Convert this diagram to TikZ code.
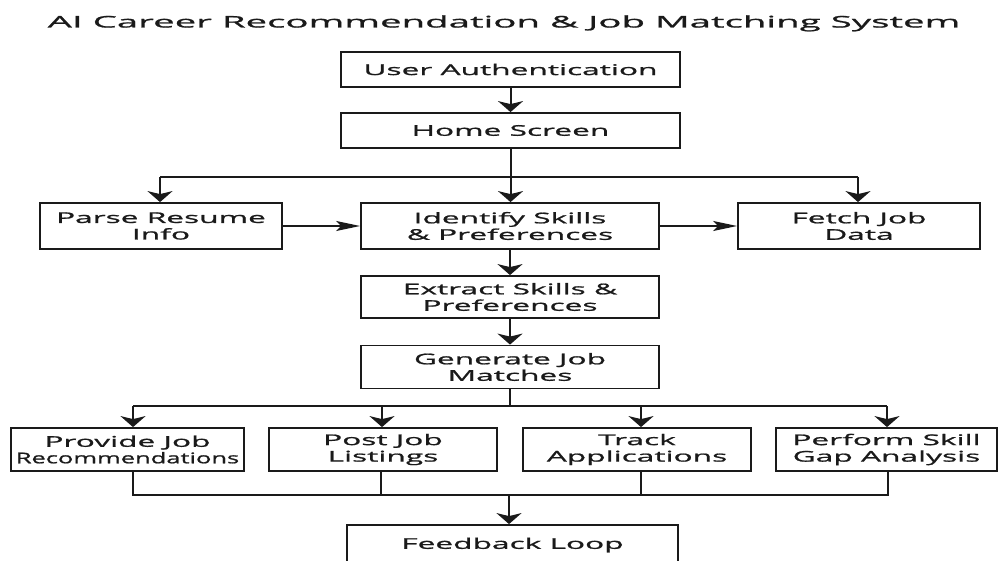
\documentclass[tikz,border=0pt]{standalone}
\usepackage{fontspec}
\setmainfont[FakeStretch=2.14,FakeBold=1.2]{Open Sans}
\newfontfamily\titlefont[FakeStretch=2.4,FakeBold=1.2]{Open Sans}
\usetikzlibrary{arrows.meta}
\definecolor{ink}{HTML}{1A1A1A}
\begin{document}
\begin{tikzpicture}[x=1pt,y=-1pt,
  box/.style={draw=ink,line width=1.8pt,fill=white,inner sep=0pt,align=center,
    font=\fontsize{14.8}{16.5}\selectfont,text=ink},
  vline/.style={draw=ink,line width=2pt},
  varr/.style={vline,-{Stealth[length=11pt,width=25pt,inset=3pt]}},
  harr/.style={vline,-{Stealth[length=24pt,width=10pt,inset=5pt]}}]
\useasboundingbox (0,0) rectangle (1000,561);
\fill[white] (0,0) rectangle (1000,561);
\node[anchor=base,font=\titlefont\fontsize{16}{20}\selectfont,text=ink] (title) at (504,27.5) {AI Career Recommendation \& Job Matching System};

\node[box,minimum width=339pt,minimum height=35pt] (ua) at (510.5,69.5) {User Authentication};
\node[box,minimum width=339pt,minimum height=35pt] (hs) at (510.5,130.5) {Home Screen};
\node[box,minimum width=242pt,minimum height=46pt] (parse) at (161,226) {Parse Resume\\Info};
\node[box,minimum width=298pt,minimum height=46pt] (ident) at (510,226) {Identify Skills\\\& Preferences};
\node[box,minimum width=242pt,minimum height=46pt] (fetch) at (859,226) {Fetch Job\\Data};
\node[box,minimum width=298pt,minimum height=42pt] (extr) at (510,297) {Extract Skills \&\\Preferences};
\node[box,minimum width=298pt,minimum height=43pt] (gen) at (510,367) {Generate Job\\Matches};
\node[box,minimum width=233pt,minimum height=43pt] (prov) at (127.5,449.5) {Provide Job\\\scalebox{0.805}[1]{Recommendations}};
\node[box,minimum width=228pt,minimum height=43pt] (post) at (383,449.5) {Post Job\\Listings};
\node[box,minimum width=228pt,minimum height=43pt] (track) at (637,449.5) {Track\\Applications};
\node[box,minimum width=221pt,minimum height=43pt] (perf) at (886.5,449.5) {Perform Skill\\Gap Analysis};
\node[box,minimum width=331pt,minimum height=40pt] (fb) at (512.5,545) {Feedback Loop};

% top chain
\draw[varr] (ua) -- (hs);
\coordinate (j1) at (510.5,177);
\coordinate (j1l) at (160,177);
\coordinate (j1r) at (858,177);
\draw[vline] (hs.south) -- (j1);
\draw[vline] (j1l) -- (j1r);
\draw[varr] (j1l) -- (j1l |- parse.north);
\draw[varr] (j1) -- (j1 |- ident.north);
\draw[varr] (j1r) -- (j1r |- fetch.north);
\draw[harr] (parse.east) -- (ident.west);
\draw[harr] (ident.east) -- (fetch.west);
\draw[varr] (ident) -- (extr);
\draw[varr] (extr) -- (gen);

% fan out
\coordinate (j2) at (510,406);
\coordinate (b1) at (133,406);
\coordinate (b2) at (382,406);
\coordinate (b3) at (641,406);
\coordinate (b4) at (887,406);
\draw[vline] (gen.south) -- (j2);
\draw[vline] (b1) -- (b4);
\draw[varr] (b1) -- (b1 |- prov.north);
\draw[varr] (b2) -- (b2 |- post.north);
\draw[varr] (b3) -- (b3 |- track.north);
\draw[varr] (b4) -- (b4 |- perf.north);

% collect
\coordinate (c1) at (133,494.5);
\coordinate (c2) at (381,494.5);
\coordinate (c3) at (641,494.5);
\coordinate (c4) at (888,494.5);
\coordinate (cm) at (509,494.5);
\draw[vline] (c1 |- prov.south) -- (c1) -- (c4) -- (c4 |- perf.south);
\draw[vline] (c2 |- post.south) -- (c2);
\draw[vline] (c3 |- track.south) -- (c3);
\draw[varr] (cm) -- (cm |- fb.north);
\end{tikzpicture}
\end{document}
